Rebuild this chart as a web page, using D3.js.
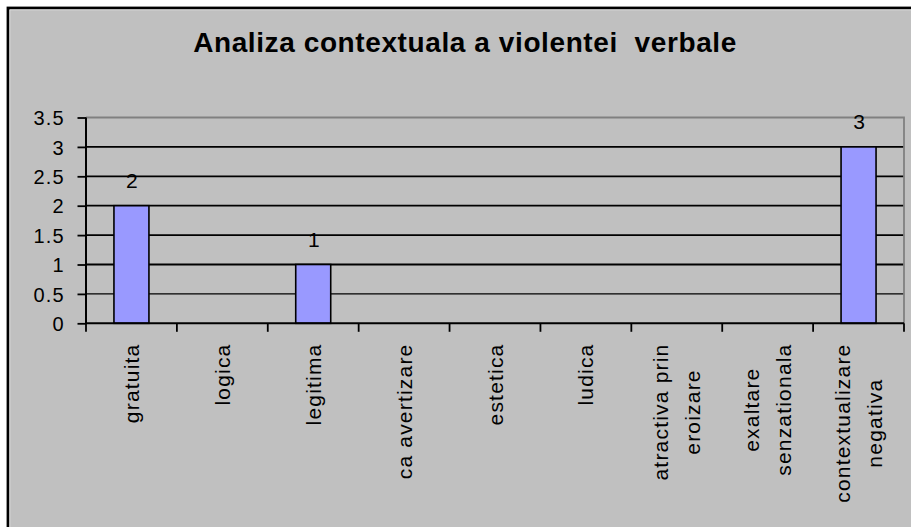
<!DOCTYPE html>
<html>
<head>
<meta charset="utf-8">
<script src="https://cdn.jsdelivr.net/npm/d3@7"></script>
<style>
  html, body { margin: 0; padding: 0; background: #ffffff; }
  svg { display: block; }
  text { font-family: "Liberation Sans", Arial, sans-serif; fill: #000; }
</style>
</head>
<body>
<svg id="chart" width="911" height="527"></svg>
<script>
const title = "Analiza contextuala a violentei  verbale";
const categories = [
  ["gratuita"],
  ["logica"],
  ["legitima"],
  ["ca avertizare"],
  ["estetica"],
  ["ludica"],
  ["atractiva prin", "eroizare"],
  ["exaltare", "senzationala"],
  ["contextualizare", "negativa"]
];
const values = [2, 0, 1, 0, 0, 0, 0, 0, 3];
const yTicks = [0, 0.5, 1, 1.5, 2, 2.5, 3, 3.5];

const svg = d3.select("#chart");

// chart area background + frame (right/bottom edges run past the picture)
svg.append("rect").attr("x", 8).attr("y", 8).attr("width", 940).attr("height", 560)
  .attr("fill", "#c0c0c0").attr("stroke", "#000").attr("stroke-width", 2.8);
svg.append("path").attr("d", "M9.8,560 V9.8 H940")
  .attr("fill", "none").attr("stroke", "#e6e6e6").attr("stroke-width", 0.8);

const m = { left: 86, right: 904, top: 117.5, bottom: 323.3 };

const pad = 0.615;
const x = d3.scaleBand().domain(d3.range(categories.length))
  .range([m.left, m.right]).paddingInner(pad).paddingOuter(pad / 2);
const xStep = d3.scaleBand().domain(d3.range(categories.length))
  .range([m.left, m.right]).padding(0);
const y = d3.scaleLinear().domain([0, 3.5]).range([m.bottom, m.top]);

// title
svg.append("text").attr("x", 465).attr("y", 51.5)
  .attr("text-anchor", "middle")
  .style("white-space", "pre")
  .style("font-weight", "bold").style("font-size", "28px").style("letter-spacing", "0.6px")
  .text(title);

// gridlines
svg.append("g").selectAll("line").data(yTicks.filter(d => d > 0 && d < 3.5)).join("line")
  .attr("x1", m.left).attr("x2", m.right)
  .attr("y1", d => y(d)).attr("y2", d => y(d))
  .attr("stroke", "#000").attr("stroke-width", d => d === 0.5 ? 1.2 : 1.8);

// plot border top/right (gray)
svg.append("path")
  .attr("d", `M${m.left},${y(3.5)} H${m.right} V${m.bottom}`)
  .attr("fill", "none").attr("stroke", "#808080").attr("stroke-width", 1.8);

const barData = values.map((v, i) => ({ v, i })).filter(d => d.v > 0);

// bars
svg.append("g").selectAll("rect").data(barData).join("rect")
  .attr("x", d => x(d.i)).attr("width", x.bandwidth())
  .attr("y", d => y(d.v)).attr("height", d => y(0) - y(d.v))
  .attr("fill", "#9999ff").attr("stroke", "#000").attr("stroke-width", 1.6);

// data labels
svg.append("g").selectAll("text").data(barData).join("text")
  .attr("x", d => x(d.i) + x.bandwidth() / 2 + 0.5)
  .attr("y", d => y(d.v) - 17.5)
  .attr("text-anchor", "middle").style("font-size", "21px")
  .text(d => d.v);

// y axis
const yAxis = svg.append("g").attr("transform", `translate(${m.left},0)`)
  .call(d3.axisLeft(y).tickValues(yTicks).tickSize(8.5).tickPadding(14)
    .tickFormat(d3.format("")));
yAxis.select(".domain").attr("stroke", "#000").attr("stroke-width", 2).attr("d", `M0,${y(3.5)}V${y(0)}`);
yAxis.selectAll(".tick line").attr("stroke", "#000").attr("stroke-width", 1.8);
yAxis.selectAll(".tick text").style("font-size", "20px").style("font-family", "Liberation Sans, Arial, sans-serif")
  .style("letter-spacing", "1.1px").attr("dx", "1.1px").attr("dy", "0.36em");

// x axis
const xAxis = svg.append("g").attr("transform", `translate(0,${m.bottom})`)
  .call(d3.axisBottom(xStep).tickSize(0).tickFormat(""));
xAxis.select(".domain").attr("stroke", "#000").attr("stroke-width", 2)
  .attr("d", `M${m.left},0H${m.right}`);
xAxis.selectAll(".tick").remove();
svg.append("g").selectAll("line").data(d3.range(categories.length + 1)).join("line")
  .attr("x1", i => m.left + xStep.step() * i).attr("x2", i => m.left + xStep.step() * i)
  .attr("y1", m.bottom).attr("y2", m.bottom + 8.5)
  .attr("stroke", "#000").attr("stroke-width", 1.8);

// category labels (rotated, top-aligned block, lines centred)
const lineGap = 31.7;
const labelTop = 343.5;
categories.forEach((lines, i) => {
  const cx = xStep(i) + xStep.step() / 2;
  const texts = lines.map((t, k) => {
    const lx = cx + (k - (lines.length - 1) / 2) * lineGap;
    return svg.append("text")
      .attr("text-anchor", "middle").attr("dominant-baseline", "central")
      .style("font-size", "21px").style("letter-spacing", "1.2px")
      .attr("data-x", lx)
      .text(t);
  });
  const maxLen = d3.max(texts, t => t.node().getComputedTextLength());
  texts.forEach(t => {
    const lx = +t.attr("data-x");
    const cy = labelTop + maxLen / 2;
    t.attr("transform", `translate(${lx},${cy}) rotate(-90)`);
  });
});
</script>
</body>
</html>
